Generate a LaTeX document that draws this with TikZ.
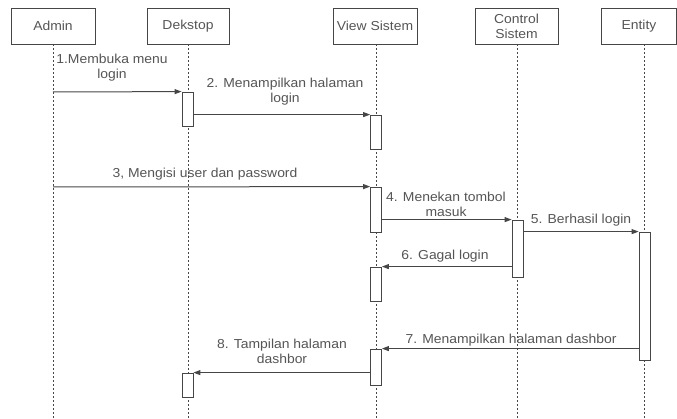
\documentclass[tikz,border=0pt]{standalone}
\usepackage{fontspec}
\setmainfont[FakeStretch=1.07]{Liberation Sans}
\usetikzlibrary{arrows.meta}
\definecolor{ink}{RGB}{70,70,70}
\definecolor{txt}{RGB}{85,85,85}
\begin{document}
\begin{tikzpicture}[x=1pt,y=-1pt,
  actor/.style={draw=ink, line width=0.8pt, minimum height=36pt, inner sep=1pt,
    align=center, text=txt, font=\fontsize{13}{15}\selectfont},
  life/.style={draw=ink, line width=0.8pt, dash pattern=on 2pt off 2pt},
  actbox/.style={draw=ink, fill=white, line width=0.8pt, minimum width=11pt, inner sep=0pt},
  msg/.style={draw=ink, line width=1pt, -{Triangle[length=7pt,width=5pt]}},
  lbl/.style={text=txt, align=center, font=\fontsize{13}{15}\selectfont, inner sep=0pt}]
\useasboundingbox (0,0) rectangle (677,419);

% participants
\node[actor, minimum width=84pt] (admin) at (53,26) {Admin};
\node[actor, minimum width=82pt] (desk) at (188,26) {Dekstop};
\node[actor, minimum width=84pt] (view) at (375,26) {View Sistem};
\node[actor, minimum width=83pt] (ctrl) at (516.5,26) {Control\\Sistem};
\node[actor, minimum width=75pt] (ent) at (639,26) {Entity};

% lifelines
\coordinate (adminEnd) at (53,419);
\coordinate (deskEnd) at (188,419);
\coordinate (viewEnd) at (376,419);
\coordinate (ctrlEnd) at (517,419);
\coordinate (entEnd) at (644.5,419);
\draw[life] (admin.south -| adminEnd) -- (adminEnd);
\draw[life] (desk.south -| deskEnd) -- (deskEnd);
\draw[life] (view.south -| viewEnd) -- (viewEnd);
\draw[life] (ctrl.south -| ctrlEnd) -- (ctrlEnd);
\draw[life] (ent.south -| entEnd) -- (entEnd);

% activation bars
\node[actbox, minimum height=34pt] (d1) at (187.5,109) {};
\node[actbox, minimum height=34pt] (v1) at (376,132) {};
\node[actbox, minimum height=45pt] (v2) at (376,209.5) {};
\node[actbox, minimum height=57pt] (c1) at (517.5,248.5) {};
\node[actbox, minimum height=128pt] (e1) at (644.5,296) {};
\node[actbox, minimum height=34pt] (v3) at (376,284) {};
\node[actbox, minimum height=36pt] (v4) at (376,367) {};
\node[actbox, minimum height=24pt] (d2) at (187.5,385) {};

% messages
\coordinate (m1s) at (53,92);
\coordinate (m3s) at (53,187);
\draw[msg] (m1s) -- (d1.north west);
\draw[msg] (d1.east |- v1.north) -- (v1.north west);
\draw[msg] (m3s) -- (v2.north west);
\draw[msg] (v2.east |- c1.north) -- (c1.north west);
\draw[msg] (c1.east |- e1.north) -- (e1.north west);
\draw[msg] (c1.west |- v3.north) -- (v3.north east);
\draw[msg] (e1.west |- v4.north) -- (v4.north east);
\draw[msg] (v4.west |- d2.north) -- (d2.north east);

% message labels
\node[lbl] (l1) at (112,68) {1.Membuka menu\\login};
\node[lbl] (l2) at (285,91.5) {2. Menampilkan halaman\\login};
\node[lbl] (l3) at (205,174) {3, Mengisi user dan password};
\node[lbl] (l4) at (446,204.5) {4. Menekan tombol\\masuk};
\node[lbl] (l5) at (581,220) {5. Berhasil login};
\node[lbl] (l6) at (445,256) {6. Gagal login};
\node[lbl] (l7) at (511,340) {7. Menampilkan halaman dashbor};
\node[lbl] (l8) at (282,351) {8. Tampilan halaman\\dashbor};
\end{tikzpicture}
\end{document}
